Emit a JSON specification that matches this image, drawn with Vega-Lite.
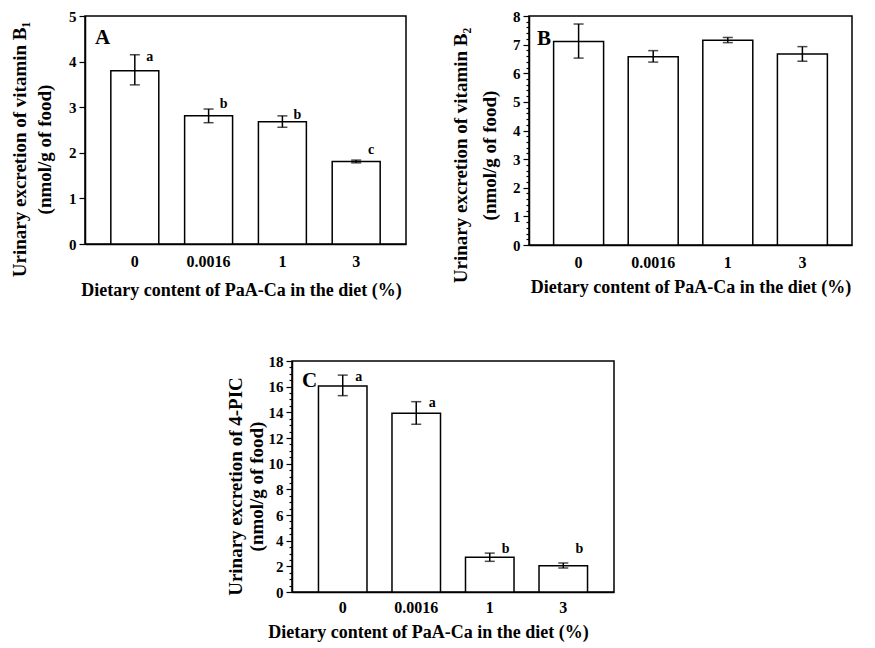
{
  "$schema": "https://vega.github.io/schema/vega-lite/v6.json",
  "background": "white",
  "padding": {"left": 9, "top": 8, "right": 0, "bottom": 0},
  "datasets": {
    "A": [
      {"dose": "0", "mean": 3.80, "lo": 3.49, "hi": 4.15, "letter": "a", "ly": 4.09},
      {"dose": "0.0016", "mean": 2.81, "lo": 2.66, "hi": 2.96, "letter": "b", "ly": 3.07},
      {"dose": "1", "mean": 2.68, "lo": 2.56, "hi": 2.81, "letter": "b", "ly": 2.83},
      {"dose": "3", "mean": 1.81, "lo": 1.78, "hi": 1.84, "letter": "c", "ly": 2.06}
    ],
    "B": [
      {"dose": "0", "mean": 7.11, "lo": 6.53, "hi": 7.72},
      {"dose": "0.0016", "mean": 6.58, "lo": 6.39, "hi": 6.79},
      {"dose": "1", "mean": 7.15, "lo": 7.07, "hi": 7.25},
      {"dose": "3", "mean": 6.67, "lo": 6.42, "hi": 6.93}
    ],
    "C": [
      {"dose": "0", "mean": 16.05, "lo": 15.3, "hi": 16.9, "letter": "a", "ly": 16.77},
      {"dose": "0.0016", "mean": 13.92, "lo": 13.07, "hi": 14.83, "letter": "a", "ly": 14.75},
      {"dose": "1", "mean": 2.70, "lo": 2.39, "hi": 3.03, "letter": "b", "ly": 3.32},
      {"dose": "3", "mean": 2.05, "lo": 1.87, "hi": 2.26, "letter": "b", "ly": 3.32}
    ]
  },
  "config": {
    "font": "Liberation Serif",
    "view": {"stroke": "black", "strokeWidth": 1.5},
    "axis": {
      "labelFont": "Liberation Serif", "titleFont": "Liberation Serif",
      "labelFontWeight": "bold", "titleFontWeight": "bold",
      "labelColor": "black", "titleColor": "black",
      "domainColor": "black", "tickColor": "black",
      "domainWidth": 1.5, "tickWidth": 1.2,
      "labelFontSize": 15, "titleFontSize": 18,
      "labelOverlap": false,
      "grid": false
    },
    "axisX": {"ticks": false, "labelAngle": 0, "labelFontSize": 16, "labelPadding": 9, "titlePadding": 12},
    "axisY": {"labelPadding": 3, "tickSize": 6, "titleAngle": -90, "titleFontSize": 19},
    "title": {"font": "Liberation Serif", "fontWeight": "bold", "fontSize": 21, "color": "black"}
  },
  "vconcat": [
    {
      "hconcat": [
        {
          "width": 321, "height": 228,
          "title": {"text": "A", "anchor": "start", "frame": "group", "offset": -39, "dx": 10},
          "data": {"name": "A"},
          "encoding": {
            "x": {"field": "dose", "type": "nominal", "sort": ["0", "0.0016", "1", "3"],
                  "scale": {"paddingInner": 0.35, "paddingOuter": 0.35},
                  "axis": {"titleX": 156},
                  "title": "Dietary content of PaA-Ca in the diet (%)"}
          },
          "layer": [
            {
              "mark": {"type": "bar", "fill": "white", "stroke": "black", "strokeWidth": 1.5},
              "encoding": {
                "y": {"field": "mean", "type": "quantitative", "scale": {"domain": [0, 5], "nice": false},
                      "title": ["Urinary excretion of vitamin B₁", "(nmol/g of food)"],
                      "axis": {"values": [0, 1, 2, 3, 4, 5], "titleLineHeight": 25, "titlePadding": 14, "titleY": 133}}
              }
            },
            {
              "mark": {"type": "errorbar", "color": "black", "ticks": {"size": 10, "thickness": 1.5}, "rule": {"strokeWidth": 1.5}},
              "encoding": {
                "y": {"field": "lo", "type": "quantitative", "title": ["Urinary excretion of vitamin B₁", "(nmol/g of food)"]},
                "y2": {"field": "hi"}
              }
            },
            {
              "mark": {"type": "text", "dx": 15, "baseline": "middle", "fontSize": 14, "fontWeight": "bold", "color": "black"},
              "encoding": {
                "y": {"field": "ly", "type": "quantitative", "title": ["Urinary excretion of vitamin B₁", "(nmol/g of food)"]},
                "text": {"field": "letter"}
              }
            }
          ]
        },
        {
          "width": 323, "height": 229,
          "title": {"text": "B", "anchor": "start", "frame": "group", "offset": -40, "dx": 8},
          "data": {"name": "B"},
          "encoding": {
            "x": {"field": "dose", "type": "nominal", "sort": ["0", "0.0016", "1", "3"],
                  "scale": {"paddingInner": 0.33, "paddingOuter": 0.33},
                  "axis": {"titlePadding": 8},
                  "title": "Dietary content of PaA-Ca in the diet (%)"}
          },
          "layer": [
            {
              "mark": {"type": "bar", "fill": "white", "stroke": "black", "strokeWidth": 1.5},
              "encoding": {
                "y": {"field": "mean", "type": "quantitative", "scale": {"domain": [0, 8], "nice": false},
                      "title": ["Urinary excretion of vitamin B₂", "(nmol/g of food)"],
                      "axis": {"values": [0, 1, 2, 3, 4, 5, 6, 7, 8], "titleLineHeight": 29, "titlePadding": 13, "titleY": 139}}
              }
            },
            {
              "mark": {"type": "errorbar", "color": "black", "ticks": {"size": 10, "thickness": 1.5}, "rule": {"strokeWidth": 1.5}},
              "encoding": {
                "y": {"field": "lo", "type": "quantitative",
                      "axis": {"orient": "left", "title": null, "labels": false, "domain": false, "tickSize": 3,
                               "values": [0.2, 0.4, 0.6, 0.8, 1.2, 1.4, 1.6, 1.8, 2.2, 2.4, 2.6, 2.8, 3.2, 3.4, 3.6, 3.8, 4.2, 4.4, 4.6, 4.8, 5.2, 5.4, 5.6, 5.8, 6.2, 6.4, 6.6, 6.8, 7.2, 7.4, 7.6, 7.8]}},
                "y2": {"field": "hi"}
              }
            }
          ],
          "resolve": {"axis": {"y": "independent"}}
        }
      ],
      "spacing": 43
    },
    {
      "hconcat": [
        {
          "width": 140, "height": 10,
          "view": {"stroke": null},
          "data": {"values": []},
          "mark": {"type": "point", "opacity": 0}
        },
        {
          "width": 322, "height": 231,
          "title": {"text": "C", "anchor": "start", "frame": "group", "offset": -37, "dx": 10},
          "data": {"name": "C"},
          "encoding": {
            "x": {"field": "dose", "type": "nominal", "sort": ["0", "0.0016", "1", "3"],
                  "scale": {"paddingInner": 0.34, "paddingOuter": 0.36},
                  "axis": {"labelPadding": 7, "titlePadding": 8, "titleX": 136},
                  "title": "Dietary content of PaA-Ca in the diet (%)"}
          },
          "layer": [
            {
              "mark": {"type": "bar", "fill": "white", "stroke": "black", "strokeWidth": 1.5},
              "encoding": {
                "y": {"field": "mean", "type": "quantitative", "scale": {"domain": [0, 18], "nice": false},
                      "title": ["Urinary excretion of 4-PIC", "(nmol/g of food)"],
                      "axis": {"values": [0, 2, 4, 6, 8, 10, 12, 14, 16, 18], "titleLineHeight": 21, "titlePadding": 2, "titleY": 125}}
              }
            },
            {
              "mark": {"type": "errorbar", "color": "black", "ticks": {"size": 10, "thickness": 1.5}, "rule": {"strokeWidth": 1.5}},
              "encoding": {
                "y": {"field": "lo", "type": "quantitative",
                      "axis": {"orient": "left", "title": null, "labels": false, "domain": false, "tickSize": 3,
                               "values": [0.5, 1, 1.5, 2.5, 3, 3.5, 4.5, 5, 5.5, 6.5, 7, 7.5, 8.5, 9, 9.5, 10.5, 11, 11.5, 12.5, 13, 13.5, 14.5, 15, 15.5, 16.5, 17, 17.5]}},
                "y2": {"field": "hi"}
              }
            },
            {
              "mark": {"type": "text", "dx": 16, "baseline": "middle", "fontSize": 14, "fontWeight": "bold", "color": "black"},
              "encoding": {
                "y": {"field": "ly", "type": "quantitative", "axis": null},
                "text": {"field": "letter"}
              }
            }
          ],
          "resolve": {"axis": {"y": "independent"}}
        }
      ],
      "spacing": 0
    }
  ],
  "spacing": 53
}
